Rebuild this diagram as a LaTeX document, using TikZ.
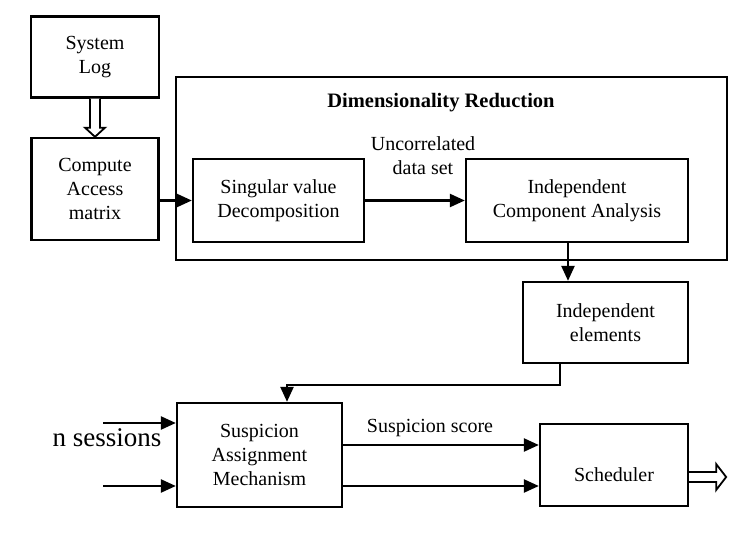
\documentclass[tikz,border=0pt]{standalone}
\usepackage{fontspec}
\setmainfont{Liberation Serif}
\usetikzlibrary{arrows.meta,calc}
\begin{document}
\begin{tikzpicture}[x=1pt,y=-1pt,
  box/.style={draw,line width=2.3pt,fill=white,align=center,inner sep=0pt,
    font=\fontsize{20}{24}\selectfont},
  conn/.style={line width=2.4pt,-{Triangle[length=15pt,width=13pt]}},
  lbl/.style={align=center,font=\fontsize{20}{24}\selectfont,inner sep=0pt},
  hollow/.style={line width=1.8pt,fill=white,line join=miter}]
\useasboundingbox[fill=white] (0,0) rectangle (745,533);

\node[box,minimum width=551pt,minimum height=183pt] (dimred) at (451.5,168.5) {};
\node[lbl,font=\fontsize{20.5}{24}\selectfont\bfseries] (title) at (441,103) {Dimensionality Reduction};

\node[box,minimum width=128pt,minimum height=81pt] (syslog) at (95,57) {System\\Log};
\node[box,minimum width=127pt,minimum height=102pt] (compute) at (95,189) {Compute\\Access\\matrix};
\node[box,minimum width=171pt,minimum height=83pt] (svd) at (278.5,200.5) {Singular value\\Decomposition};
\node[box,minimum width=222pt,minimum height=83pt] (ica) at (577,200.5) {Independent\\Component Analysis};
\node[box,minimum width=165pt,minimum height=81pt] (indep) at (605.5,322.5) {Independent\\elements};
\node[box,minimum width=165pt,minimum height=104pt] (sam) at (259.5,455) {Suspicion\\Assignment\\Mechanism};
\node[box,minimum width=148pt,minimum height=82pt] (sched) at (614,465) {\raisebox{-16pt}[0pt][0pt]{Scheduler}};

\node[lbl] (uncor) at (423,156) {Uncorrelated\\data set};
\node[lbl] (score) at (430,428) {Suspicion score};
\node[lbl,font=\fontsize{27}{30}\selectfont] (nsess) at (107,438) {n sessions};

% hollow double arrow System Log -> Compute
\draw[hollow] ($(syslog.south)+(-5,0)$) -- ++(0,29) -- ++(-5,0) -- ($(compute.north)$) -- ($(syslog.south)+(10,29)$) -- ++(-5,0) -- ($(syslog.south)+(5,0)$);

% connectors
\draw[conn] (svd.west -| compute.east) -- (svd.west);
\draw[conn] (svd.east) -- (ica.west);
\coordinate (icaout) at ($(ica.south)+(-9,0)$);
\draw[conn] (icaout) -- (icaout |- indep.north);
\coordinate (indout) at ($(indep.south)+(-45.5,0)$);
\coordinate (fbcorner) at ($(indout)+(0,21)$);
\coordinate (samin) at ($(sam.north)+(27.5,0)$);
\draw[conn] (indout) -- (fbcorner) -- (fbcorner -| samin) -- (samin);

\coordinate (in1) at (103,423);
\coordinate (in2) at (103,486);
\draw[conn] (in1) -- (in1 -| sam.west);
\draw[conn] (in2) -- (in2 -| sam.west);

\coordinate (out1) at ($(sam.east)+(0,-10)$);
\coordinate (out2) at ($(sam.east)+(0,31)$);
\draw[conn] (out1) -- (out1 -| sched.west);
\draw[conn] (out2) -- (out2 -| sched.west);

% hollow output arrow
\coordinate (schout) at ($(sched.east)+(0,12)$);
\draw[hollow] ($(schout)+(0,-5)$) -- ++(27,0) -- ++(0,-8) -- ($(schout)+(37,0)$) -- ($(schout)+(27,13)$) -- ++(0,-8) -- ($(schout)+(0,5)$);
\end{tikzpicture}
\end{document}
